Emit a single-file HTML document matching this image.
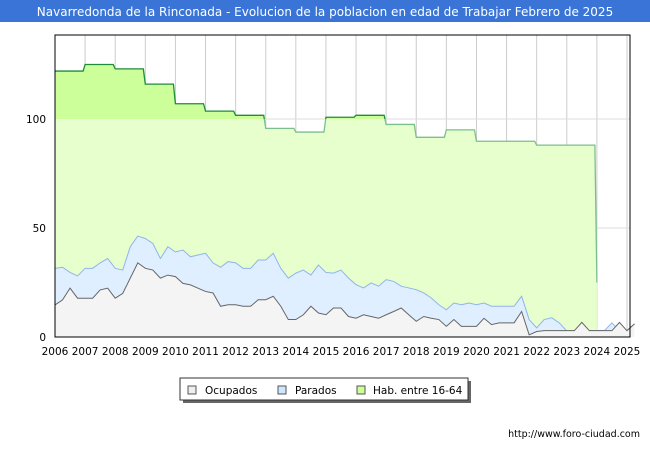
<!DOCTYPE html>
<html><head><meta charset="utf-8"><style>
body{margin:0;width:650px;height:450px;background:#fff;overflow:hidden;font-family:"DejaVu Sans","Liberation Sans",sans-serif}
</style></head><body>
<svg id="chart" width="650" height="450" xmlns="http://www.w3.org/2000/svg">
<rect x="0" y="0" width="650" height="22" fill="#3a74d6"/>
<text x="325" y="16" text-anchor="middle" fill="#fff" font-size="12" font-family="DejaVu Sans, sans-serif">Navarredonda de la Rinconada - Evolucion de la poblacion en edad de Trabajar Febrero de 2025</text>
<g id="plot"></g>
<g>
<rect x="183" y="381" width="288" height="22" fill="#666"/>
<rect x="180" y="378" width="288" height="22" fill="#fff" stroke="#333"/>
<g><rect x="188" y="386" width="8" height="8" fill="#eee" stroke="#555"/><text x="205" y="394" font-size="10.5">Ocupados</text></g>
<g><rect x="278" y="386" width="8" height="8" fill="#cfe6ff" stroke="#555"/><text x="295" y="394" font-size="10.5">Parados</text></g>
<g><rect x="357" y="386" width="8" height="8" fill="#ccff99" stroke="#555"/><text x="373" y="394" font-size="10.5">Hab. entre 16-64</text></g>
</g>
<text x="640" y="437" text-anchor="end" font-size="9.5">http://www.foro-ciudad.com</text>
</svg>
<script>
const years=[2006,2007,2008,2009,2010,2011,2012,2013,2014,2015,2016,2017,2018,2019,2020,2021,2022,2023,2024,2025];
const yTicks=[0,50,100];
const habValues=[122,125,123,116,107,103.6,101.7,95.7,94,100.8,101.7,97.5,91.6,95,89.8,89.8,88,88];
const paradosValues=[31.5,32,29.6,28,31.5,31.5,34,36,31.5,30.7,41.4,46.3,45.2,42.9,36,41.4,39,39.9,36.8,37.6,38.4,34,32,34.6,34,31.5,31.5,35.3,35.3,38.4,31.5,27,29.3,30.7,28.4,33,29.6,29.3,30.7,27,24,22.5,24.8,23.3,26.3,25.5,23.3,22.5,21.7,20.2,17.9,14.8,12.5,15.6,14.8,15.6,14.8,15.6,14.1,14.1,14.1,14.1,18.7,8,4.2,8,8.8,6.5,2.7,2.9,2.9,2.9,2.9,2.9,6.5,2.9,2.9,6];
const ocupadosValues=[14.7,17,22.4,17.8,17.8,17.8,21.6,22.4,17.8,20,27,34,31.5,30.7,27,28.4,27.7,24.6,23.9,22.4,20.9,20.2,14.1,14.8,14.8,14.1,14.1,17.1,17.1,18.7,14.1,8,8,10.2,14.1,11,10.2,13.3,13.3,9.4,8.6,10.2,9.4,8.6,10.2,11.7,13.3,10.2,7.2,9.4,8.6,8,4.9,8,4.9,4.9,4.9,8.6,5.7,6.5,6.5,6.5,11.7,1,2.5,2.9,2.9,2.9,2.9,2.9,6.7,2.9,2.9,2.9,2.9,6.7,2.9,6];
const X0=55,X1=630,Y0=337,PX=2.18;
const xs=y=>X0+(y-2006)*(X1-X0)/19.1;
const ys=v=>Y0-v*PX;
const NS='http://www.w3.org/2000/svg';
const plot=document.getElementById('plot');
function mk(tag,attrs,parent){const e=document.createElementNS(NS,tag);for(const k in attrs)e.setAttribute(k,attrs[k]);(parent||plot).appendChild(e);return e;}
const defs=mk('defs',{});
const cp=mk('clipPath',{id:'above'},defs);mk('rect',{x:0,y:0,width:650,height:ys(100)},cp);
const cb=mk('clipPath',{id:'below'},defs);mk('rect',{x:0,y:ys(100),width:650,height:450},cb);
years.forEach(y=>{const l=mk('line',{x1:xs(y),x2:xs(y),y1:35,y2:Y0,stroke:'#ccc'});

});
yTicks.forEach(v=>{const l=mk('line',{x1:X0,x2:X1,y1:ys(v),y2:ys(v),stroke:'#ddd'});

});
let hp='';
habValues.forEach((v,i)=>{const a=xs(years[i]),b=xs(years[i]+1)-2;hp+=(i?'L':'M')+a+','+ys(v)+'L'+b+','+ys(v);});
const hEnd=xs(2024);
const habFill='M'+xs(2006)+','+Y0+hp.replace(/^M/,'L')+'L'+hEnd+','+ys(25)+'L'+hEnd+','+Y0+'Z';
let e=mk('path',{d:habFill,fill:'#e6ffcc'});


mk('path',{d:habFill,fill:'#ccff99','clip-path':'url(#above)'});
const habLine=hp+'L'+hEnd+','+ys(25);
e=mk('path',{d:habLine,fill:'none',stroke:'#7bbf8f','stroke-width':1.3,'clip-path':'url(#below)'});


mk('path',{d:habLine,fill:'none',stroke:'#1e8c3a','stroke-width':1.3,'clip-path':'url(#above)'});
function series(vals,fill,stroke,name){
 const pts=vals.map((v,i)=>xs(2006+i*0.25)+','+ys(v));
 const line='M'+pts.join('L');
 let a=mk('path',{d:line+'L'+xs(2006+(vals.length-1)*0.25)+','+Y0+'L'+X0+','+Y0+'Z',fill:fill});
 
 
 let l=mk('path',{d:line,fill:'none',stroke:stroke,'stroke-width':1});
 
 
}
series(paradosValues,'#e0efff','#8fb4ee','parados');
series(ocupadosValues,'#f4f4f4','#666','ocupados');
e=mk('rect',{x:X0,y:35,width:X1-X0,height:Y0-35,fill:'none',stroke:'#000'});


years.forEach(y=>{const t=mk('text',{x:xs(y),y:355,'text-anchor':'middle','font-size':10.5});t.textContent=y;

});
yTicks.forEach(v=>{const t=mk('text',{x:46,y:ys(v)+4,'text-anchor':'end','font-size':10.5});t.textContent=v;

});
</script>
</body></html>
